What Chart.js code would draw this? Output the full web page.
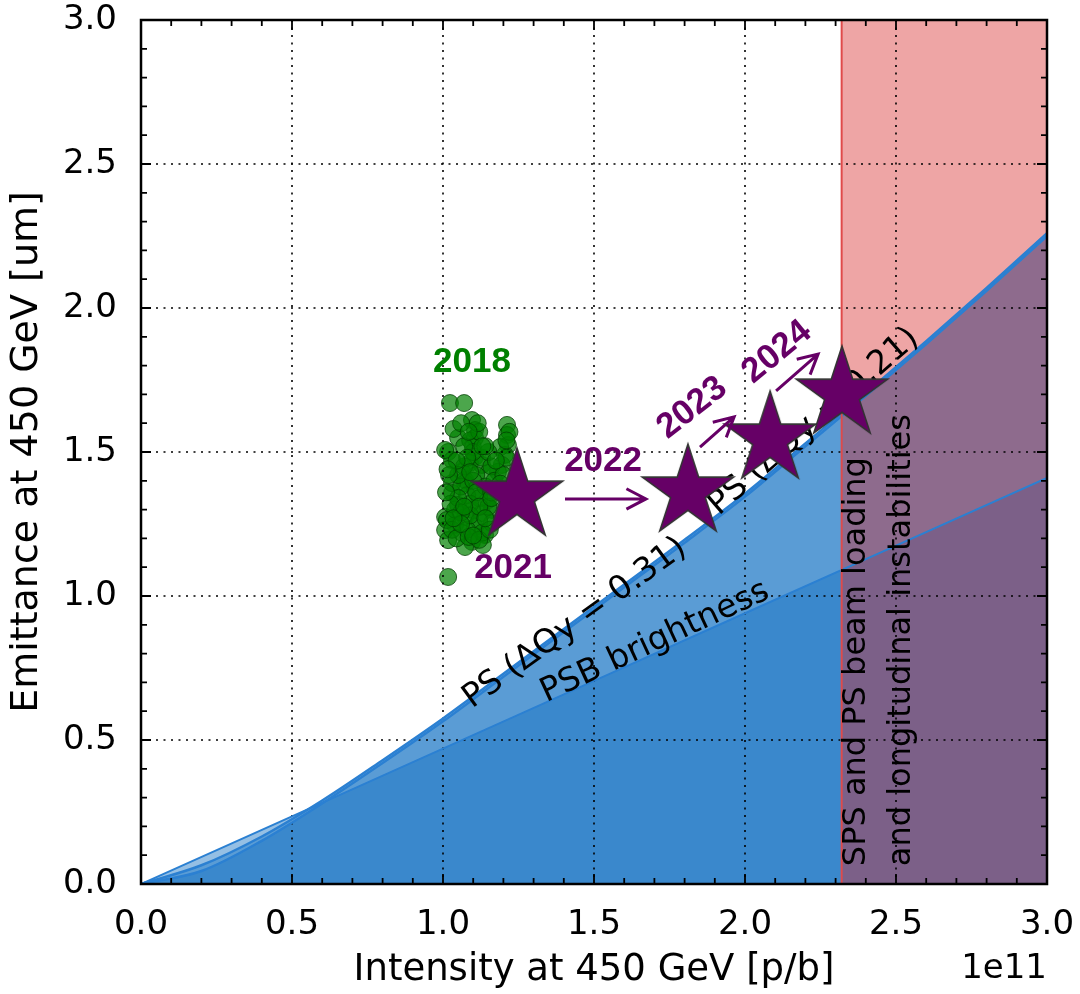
<!DOCTYPE html>
<html>
<head>
<meta charset="utf-8">
<script src="https://cdn.jsdelivr.net/npm/chart.js@4.4.1/dist/chart.umd.min.js"></script>
<style>
  html, body { margin: 0; padding: 0; background: #ffffff; }
  #wrap { width: 1080px; height: 994px; }
</style>
</head>
<body>
<div id="wrap"><canvas id="chart" width="1080" height="994"></canvas></div>
<script>
// ---- data (intensity in 1e11 p/b, emittance in um) ----
const curveIntensity = [0, 0.2, 0.4, 0.6, 0.8, 1.0, 1.2, 1.4, 1.6, 1.8, 2.0, 2.2, 2.4, 2.6, 2.8, 3.0];
const psEmittanceQ031 = [0, 0.045, 0.15, 0.28, 0.42, 0.565, 0.72, 0.875, 1.03, 1.185, 1.345, 1.52, 1.695, 1.875, 2.06, 2.25];
const psEmittanceQ021 = [0, 0.065, 0.165, 0.29, 0.43, 0.575, 0.73, 0.885, 1.04, 1.195, 1.355, 1.53, 1.705, 1.885, 2.07, 2.26];
const psbIntensity = [0, 0.5, 1.0, 1.5, 2.0, 2.5, 3.0];
const psbEmittance = [0, 0.235, 0.47, 0.705, 0.94, 1.175, 1.41];
const limitIntensity = [2.32, 3.0];   // SPS/PS beam loading limit and axis end
const limitEmittance = [0, 3.0];

const scatter2018Intensity = [
  1.023, 1.070, 1.096, 1.106, 1.106, 1.050, 1.212, 1.212, 1.215, 1.205,
  1.189, 1.195, 1.182, 1.017, 1.030, 1.090, 1.099, 1.106, 1.089, 1.129,
  1.063, 1.149, 1.073, 1.073, 1.106, 1.030, 1.149, 1.050, 1.096, 1.129,
  1.007, 1.073, 1.162, 1.040, 1.106, 1.007, 1.063, 1.139, 1.096, 1.132,
  1.073, 1.017, 1.162, 1.017, 1.013, 1.030, 1.007, 1.080, 1.120, 1.090,
  1.060, 1.110, 1.140, 1.070, 1.050, 1.130, 1.100, 1.040, 1.150, 1.160,
  1.120, 1.080, 1.050, 1.170, 1.100, 1.090, 1.130, 1.060, 1.110, 1.150,
  1.180, 1.070, 1.220, 1.210, 1.200, 1.190, 1.210, 1.120, 1.115, 1.030,
  1.045, 1.085, 1.120, 1.155, 1.025, 1.020, 1.160, 1.140, 1.080, 1.010,
  1.035, 1.060, 1.085, 1.045, 1.015, 1.175, 1.130, 1.090, 1.120, 1.140,
  1.060, 1.100, 1.035, 1.070, 1.160
];
const scatter2018Emittance = [
  1.670, 1.670, 1.611, 1.576, 1.549, 1.549, 1.594, 1.559, 1.524, 1.490,
  1.517, 1.455, 1.431, 1.500, 1.472, 1.540, 1.517, 1.483, 1.462, 1.455,
  1.431, 1.427, 1.403, 1.392, 1.368, 1.358, 1.333, 1.316, 1.299, 1.288,
  1.274, 1.274, 1.299, 1.247, 1.240, 1.229, 1.219, 1.212, 1.188, 1.177,
  1.170, 1.194, 1.253, 1.066, 1.264, 1.392, 1.507, 1.350, 1.340, 1.320,
  1.380, 1.420, 1.380, 1.450, 1.420, 1.480, 1.500, 1.300, 1.310, 1.450,
  1.260, 1.230, 1.340, 1.400, 1.400, 1.280, 1.220, 1.290, 1.360, 1.500,
  1.370, 1.520, 1.570, 1.540, 1.420, 1.390, 1.480, 1.570, 1.600, 1.230,
  1.200, 1.205, 1.195, 1.230, 1.320, 1.420, 1.360, 1.520, 1.480, 1.360,
  1.580, 1.600, 1.570, 1.470, 1.440, 1.470, 1.520, 1.430, 1.310, 1.270,
  1.250, 1.210, 1.270, 1.310, 1.340
];

const starYears = ['2021', '2022', '2023', '2024'];
const starIntensity = [1.245, 1.811, 2.083, 2.321];
const starEmittance = [1.347, 1.361, 1.545, 1.701];

const axisTicks = [0, 0.5, 1.0, 1.5, 2.0, 2.5, 3.0];

// ---- annotation placement (data coordinates) ----
const annotationLayout = {
  curveLabels: [
    { text: 'PS (\u0394Qy = 0.31)', x: 1.437, y: 0.905, angle: -36 },
    { text: 'PSB brightness', x: 1.702, y: 0.840, angle: -25 },
    { text: 'PS (\u0394Qy = 0.21)', x: 2.228, y: 1.605, angle: -41 }
  ],
  limitLabels: [
    { text: 'SPS and PS beam loading', x: 2.371, y: 0.062 },
    { text: 'and longitudinal instabilities', x: 2.520, y: 0.062 }
  ],
  yearLabels: [
    { text: '2018', x: 1.096, y: 1.812, angle: 0, color: '#008000' },
    { text: '2021', x: 1.232, y: 1.097, angle: 0, color: '#660066' },
    { text: '2022', x: 1.530, y: 1.467, angle: 0, color: '#660066' },
    { text: '2023', x: 1.825, y: 1.653, angle: -38, color: '#660066' },
    { text: '2024', x: 2.106, y: 1.847, angle: -39.5, color: '#660066' }
  ],
  arrows: [
    { x0: 1.404, y0: 1.337, x1: 1.672, y1: 1.337 },
    { x0: 1.851, y0: 1.517, x1: 1.964, y1: 1.622 },
    { x0: 2.103, y0: 1.712, x1: 2.242, y1: 1.840 }
  ]
};

// ---- styling ----
const BLUE_FILL = 'rgba(20,112,195,0.45)';
const BLUE_LINE = '#2b80d2';
const LIMIT_FILL = 'rgba(214,40,40,0.42)';
const LIMIT_LINE = '#e04a4a';
const PURPLE = '#660066';

const xy = (xs, ys) => xs.map((x, i) => ({ x: x, y: ys[i] }));

// filled five-pointed star used as the point style for the yearly targets
const starMarker = (() => {
  const R = 48, pad = 3, size = 2 * (R + pad);
  const cv = document.createElement('canvas');
  cv.width = size; cv.height = size;
  const g = cv.getContext('2d');
  g.beginPath();
  for (let i = 0; i < 10; i++) {
    const r = i % 2 === 0 ? R : R * 0.381966;
    const a = -Math.PI / 2 + i * Math.PI / 5;
    const px = size / 2 + r * Math.cos(a), py = size / 2 + r * Math.sin(a);
    if (i === 0) g.moveTo(px, py); else g.lineTo(px, py);
  }
  g.closePath();
  g.fillStyle = PURPLE;
  g.fill();
  g.lineWidth = 1.6;
  g.strokeStyle = '#333333';
  g.stroke();
  return cv;
})();

// ---- custom drawing: grid, labels, arrows, frame ----
function px(chart, v) { return chart.scales.x.getPixelForValue(v); }
function py(chart, v) { return chart.scales.y.getPixelForValue(v); }

function drawGrid(chart) {
  const { ctx, chartArea: a } = chart;
  ctx.save();
  ctx.strokeStyle = '#000';
  ctx.lineWidth = 1.6;
  ctx.setLineDash([2, 5.5]);
  axisTicks.forEach(v => {
    const X = px(chart, v);
    ctx.beginPath(); ctx.moveTo(X, a.top); ctx.lineTo(X, a.bottom); ctx.stroke();
    const Y = py(chart, v);
    ctx.beginPath(); ctx.moveTo(a.left, Y); ctx.lineTo(a.right, Y); ctx.stroke();
  });
  ctx.restore();
}

function drawCurveLabels(chart) {
  const { ctx, chartArea: a } = chart;
  ctx.save();
  ctx.beginPath(); ctx.rect(a.left, a.top, a.width, a.height); ctx.clip();
  ctx.fillStyle = '#000';
  ctx.textAlign = 'center';
  ctx.textBaseline = 'middle';
  annotationLayout.curveLabels.forEach(l => {
    ctx.save();
    ctx.font = '33px "DejaVu Sans"';
    ctx.translate(px(chart, l.x), py(chart, l.y));
    ctx.rotate(l.angle * Math.PI / 180);
    ctx.fillText(l.text, 0, 0);
    ctx.restore();
  });
  ctx.font = '32px "DejaVu Sans"';
  ctx.textAlign = 'left';
  annotationLayout.limitLabels.forEach(l => {
    ctx.save();
    ctx.translate(px(chart, l.x), py(chart, l.y));
    ctx.rotate(-Math.PI / 2);
    ctx.fillText(l.text, 0, 0);
    ctx.restore();
  });
  ctx.restore();
}

function drawArrow(ctx, x0, y0, x1, y1) {
  const ang = Math.atan2(y1 - y0, x1 - x0);
  const len = 22, spread = 0.48;
  ctx.beginPath();
  ctx.moveTo(x0, y0); ctx.lineTo(x1, y1);
  ctx.moveTo(x1 - len * Math.cos(ang - spread), y1 - len * Math.sin(ang - spread));
  ctx.lineTo(x1, y1);
  ctx.lineTo(x1 - len * Math.cos(ang + spread), y1 - len * Math.sin(ang + spread));
  ctx.stroke();
}

function drawAnnotations(chart) {
  const { ctx } = chart;
  ctx.save();
  ctx.strokeStyle = PURPLE;
  ctx.lineWidth = 3;
  ctx.lineCap = 'butt';
  ctx.lineJoin = 'miter';
  annotationLayout.arrows.forEach(r => {
    drawArrow(ctx, px(chart, r.x0), py(chart, r.y0), px(chart, r.x1), py(chart, r.y1));
  });
  ctx.font = 'bold 35px "Liberation Sans"';
  ctx.textAlign = 'center';
  ctx.textBaseline = 'middle';
  annotationLayout.yearLabels.forEach(l => {
    ctx.save();
    ctx.translate(px(chart, l.x), py(chart, l.y));
    ctx.rotate(l.angle * Math.PI / 180);
    ctx.fillStyle = l.color;
    ctx.fillText(l.text, 0, 0);
    ctx.restore();
  });
  ctx.restore();
}

function drawFrame(chart) {
  const { ctx, chartArea: a } = chart;
  ctx.save();
  ctx.strokeStyle = '#000';
  ctx.lineWidth = 1.8;
  for (let k = 0; k <= 30; k++) {
    const v = k / 10;
    const L = k % 5 === 0 ? 10 : 6;
    const X = px(chart, v), Y = py(chart, v);
    ctx.beginPath();
    ctx.moveTo(X, a.bottom); ctx.lineTo(X, a.bottom - L);
    ctx.moveTo(X, a.top); ctx.lineTo(X, a.top + L);
    ctx.moveTo(a.left, Y); ctx.lineTo(a.left + L, Y);
    ctx.moveTo(a.right, Y); ctx.lineTo(a.right - L, Y);
    ctx.stroke();
  }
  ctx.lineWidth = 2.5;
  ctx.strokeRect(a.left, a.top, a.width, a.height);
  // scale multiplier of the intensity axis
  ctx.fillStyle = '#000';
  ctx.font = '34px "DejaVu Sans"';
  ctx.textAlign = 'right';
  ctx.textBaseline = 'middle';
  ctx.fillText('1e11', a.right, 969);
  ctx.restore();
}

const decorPlugin = {
  id: 'decor',
  afterDatasetDraw(chart, args) {
    const ds = chart.data.datasets[args.index];
    if (ds.label === '2018') drawGrid(chart);
    if (ds.label === 'limit line') drawCurveLabels(chart);
  },
  afterDatasetsDraw(chart) { drawAnnotations(chart); },
  afterDraw(chart) { drawFrame(chart); }
};

// fixed axis boxes: the plot frame spans 141..1047 x 20..884
function fixBox(size, isX) {
  return s => {
    if (isX) s.height = size; else s.width = size;
    s.paddingLeft = 0; s.paddingRight = 0; s.paddingTop = 0; s.paddingBottom = 0;
  };
}

Chart.defaults.font.family = '"DejaVu Sans"';
Chart.defaults.color = '#000';

const datasets = [
  { label: 'PSB fill', data: xy(psbIntensity, psbEmittance), fill: 'origin',
    backgroundColor: BLUE_FILL, borderWidth: 0, pointRadius: 0, order: 20 },
  { label: 'PS 0.31 fill', data: xy(curveIntensity, psEmittanceQ031), fill: 'origin',
    backgroundColor: BLUE_FILL, borderWidth: 0, pointRadius: 0, cubicInterpolationMode: 'monotone', order: 19 },
  { label: 'PS 0.21 fill', data: xy(curveIntensity, psEmittanceQ021), fill: 'origin',
    backgroundColor: BLUE_FILL, borderWidth: 0, pointRadius: 0, cubicInterpolationMode: 'monotone', order: 18 },
  { label: 'limit region', data: xy(limitIntensity, [limitEmittance[1], limitEmittance[1]]), fill: 'origin',
    backgroundColor: LIMIT_FILL, borderWidth: 0, pointRadius: 0, order: 17 },
  { label: '2018', data: xy(scatter2018Intensity, scatter2018Emittance), showLine: false,
    pointRadius: 8.5, pointBackgroundColor: 'rgba(0,128,0,0.7)', pointBorderColor: 'rgba(0,60,0,0.75)',
    pointBorderWidth: 1, order: 16 },
  { label: 'PSB brightness', data: xy(psbIntensity, psbEmittance), fill: false,
    borderColor: BLUE_LINE, borderWidth: 2, pointRadius: 0, order: 15 },
  { label: 'PS 0.31', data: xy(curveIntensity, psEmittanceQ031), fill: false,
    borderColor: BLUE_LINE, borderWidth: 2.5, pointRadius: 0, cubicInterpolationMode: 'monotone', order: 14 },
  { label: 'PS 0.21', data: xy(curveIntensity, psEmittanceQ021), fill: false,
    borderColor: BLUE_LINE, borderWidth: 2.5, pointRadius: 0, cubicInterpolationMode: 'monotone', order: 13 },
  { label: 'limit line', data: xy([limitIntensity[0], limitIntensity[0]], limitEmittance), fill: false,
    borderColor: LIMIT_LINE, borderWidth: 2, pointRadius: 0, order: 12 },
  { label: 'targets', data: xy(starIntensity, starEmittance), showLine: false,
    pointStyle: starMarker, pointRadius: 48, order: 1 }
];

new Chart(document.getElementById('chart'), {
  type: 'line',
  data: { datasets: datasets },
  plugins: [decorPlugin],
  options: {
    responsive: false,
    devicePixelRatio: 1,
    animation: false,
    events: [],
    layout: { autoPadding: false, padding: { top: 20, right: 33, left: 0, bottom: 0 } },
    plugins: { legend: { display: false }, tooltip: { enabled: false } },
    scales: {
      x: {
        type: 'linear', min: 0, max: 3,
        grid: { display: false, drawTicks: false },
        border: { display: false },
        ticks: {
          stepSize: 0.5, maxRotation: 0, autoSkip: false, padding: 21,
          font: { size: 34 }, color: '#000',
          callback: v => Number(v).toFixed(1)
        },
        title: { display: true, text: 'Intensity at 450 GeV [p/b]', font: { size: 37 },
                 color: '#000', padding: { top: 0, bottom: 1 } },
        afterFit: fixBox(110, true)
      },
      y: {
        type: 'linear', min: 0, max: 3,
        grid: { display: false, drawTicks: false },
        border: { display: false },
        ticks: {
          stepSize: 0.5, padding: 24, font: { size: 34, lineHeight: 1 }, color: '#000',
          callback: v => Number(v).toFixed(1)
        },
        title: { display: true, text: 'Emittance at 450 GeV [um]', font: { size: 38 },
                 color: '#000', padding: { top: 4, bottom: 0 } },
        afterFit: fixBox(141, false)
      }
    }
  }
});
</script>
</body>
</html>
